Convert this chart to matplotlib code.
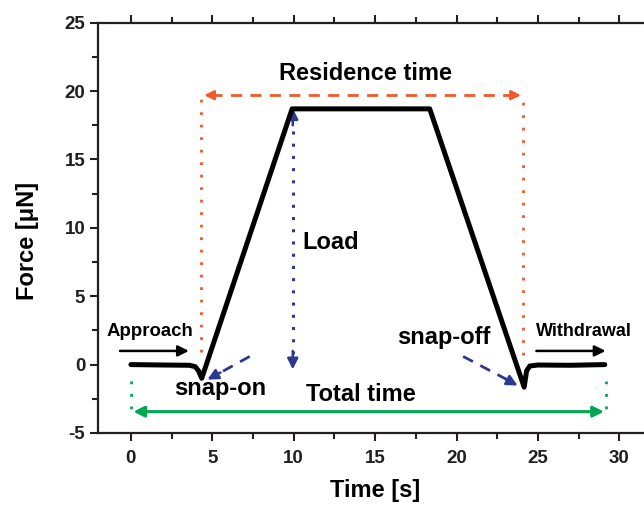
import numpy as np
import matplotlib
matplotlib.use("Agg")
import matplotlib.pyplot as plt
from matplotlib.ticker import MultipleLocator

plt.rcParams["font.family"] = ["Liberation Sans", "DejaVu Sans"]
plt.rcParams["font.weight"] = "bold"
plt.rcParams["axes.unicode_minus"] = False

# force curve (time in s, force in uN)
time_s = [0.0, 2.0, 3.6, 3.95, 4.15, 4.35, 9.9, 18.35, 24.15, 24.3, 24.5, 25.0, 27.0, 29.1]
force_uN = [0.0, -0.03, -0.05, -0.15, -0.45, -1.0, 18.7, 18.7, -1.65, -0.45, -0.1, -0.03, -0.05, 0.0]

red = "#f15a29"
blue = "#2b3990"
green = "#00a651"


def head(ax, x0, y0, x1, y1, color, lw=1.8, scale=14):
  ax.annotate("", xy=(x1, y1), xytext=(x0, y0),
              arrowprops=dict(arrowstyle="-|>", color=color, lw=lw,
                              mutation_scale=scale, shrinkA=0, shrinkB=0))


def main():
  fig = plt.figure(figsize=(6.44, 5.07), dpi=100)
  ax = fig.add_axes([0.1527, 0.146, 0.8597, 0.8092])

  ax.plot(time_s, force_uN, color="black", lw=3.6, solid_joinstyle="round",
          solid_capstyle="round", zorder=5)

  # residence time
  ax.plot([4.3, 4.3], [0.9, 19.7], ls=(0, (1, 3.5)), color=red, lw=2)
  ax.plot([24.05, 24.05], [0.7, 19.7], ls=(0, (1, 3.5)), color=red, lw=2)
  ax.plot([4.9, 23.4], [19.7, 19.7], ls=(0, (4, 3)), color=red, lw=2)
  head(ax, 5.2, 19.7, 4.5, 19.7, red)
  head(ax, 23.2, 19.7, 23.95, 19.7, red)
  ax.text(14.4, 21.3, "Residence time", ha="center", va="center", fontsize=17)

  # load
  ax.plot([9.94, 9.94], [0.8, 17.6], ls=(0, (1, 3)), color=blue, lw=2.2)
  head(ax, 9.94, 17.5, 9.94, 18.75, blue, scale=16)
  head(ax, 9.94, 1.0, 9.94, -0.35, blue, scale=16)
  ax.text(10.5, 8.9, "Load", ha="left", va="center", fontsize=17)

  # snap-on / snap-off
  ax.plot([7.3, 5.4], [0.6, -0.65], ls=(0, (4, 3)), color=blue, lw=2)
  head(ax, 5.5, -0.58, 4.7, -1.1, blue, scale=16)
  ax.plot([20.4, 23.1], [0.6, -1.1], ls=(0, (4, 3)), color=blue, lw=2)
  head(ax, 23.0, -1.05, 23.75, -1.53, blue, scale=16)
  ax.text(5.5, -1.75, "snap-on", ha="center", va="center", fontsize=17)
  ax.text(19.2, 1.95, "snap-off", ha="center", va="center", fontsize=17)

  # approach / withdrawal
  head(ax, -0.67, 1.0, 3.56, 1.0, "black", lw=1.8, scale=16)
  ax.text(1.15, 2.4, "Approach", ha="center", va="center", fontsize=13.4)
  head(ax, 24.9, 1.0, 29.15, 1.0, "black", lw=1.8, scale=16)
  ax.text(27.85, 2.4, "Withdrawal", ha="center", va="center", fontsize=13)

  # total time
  ax.plot([0.0, 0.0], [-1.2, -3.44], ls=(0, (1, 3.5)), color=green, lw=2)
  ax.plot([29.2, 29.2], [-1.2, -3.44], ls=(0, (1, 3.5)), color=green, lw=2)
  ax.annotate("", xy=(0.15, -3.44), xytext=(29.05, -3.44),
              arrowprops=dict(arrowstyle="<|-|>", color=green, lw=2.2,
                              mutation_scale=16, shrinkA=0, shrinkB=0))
  ax.text(14.1, -2.2, "Total time", ha="center", va="center", fontsize=17)

  ax.set_xlim(-2, 32)
  ax.set_ylim(-5, 25)
  ax.xaxis.set_major_locator(MultipleLocator(5))
  ax.xaxis.set_minor_locator(MultipleLocator(2.5))
  ax.yaxis.set_major_locator(MultipleLocator(5))
  ax.yaxis.set_minor_locator(MultipleLocator(2.5))
  ax.tick_params(which="both", direction="out", top=True, width=1.5,
                 labelsize=13.5, colors="#231f20")
  ax.tick_params(which="major", length=6)
  ax.tick_params(axis="x", which="major", pad=6)
  ax.tick_params(which="minor", length=4)
  for s in ax.spines.values():
    s.set_linewidth(1.6)
    s.set_color("#231f20")

  ax.set_xlabel("Time [s]", fontsize=17, fontweight="bold")
  ax.set_ylabel("Force [\u03bcN]", fontsize=17, fontweight="bold")
  ax.xaxis.set_label_coords(0.5, -0.112)
  ax.yaxis.set_label_coords(-0.108, 0.468)

  fig.savefig("out.png", dpi=100)


if __name__ == '__main__':
  main()
